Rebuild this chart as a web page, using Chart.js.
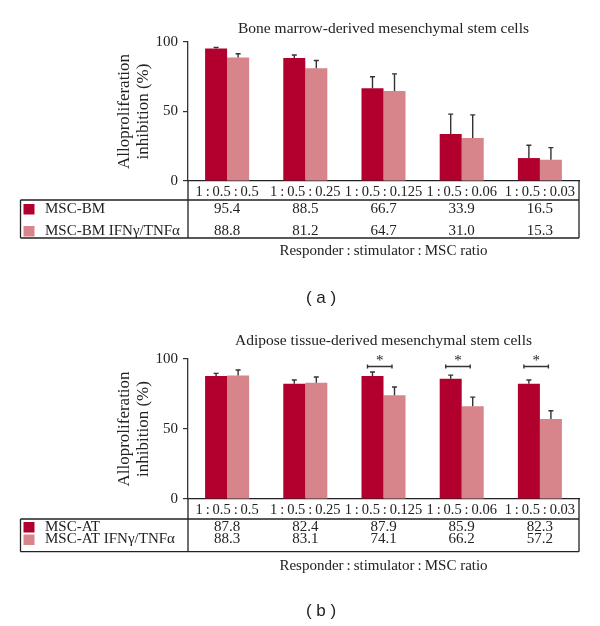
<!DOCTYPE html>
<html>
<head>
<meta charset="utf-8">
<script src="https://cdn.jsdelivr.net/npm/chart.js@4"></script>
<style>
  html, body { margin: 0; padding: 0; background: #fff; }
  #wrap { position: relative; width: 600px; height: 626px; }
  canvas { position: absolute; left: 0; }
  #chartA { top: 0; }
  #chartB { top: 313px; }
</style>
</head>
<body>
<div id="wrap">
  <canvas id="chartA" width="600" height="313"></canvas>
  <canvas id="chartB" width="600" height="313"></canvas>
</div>
<script>
const T = '\u2009';
const ratioLabels = ['1' + T + ':' + T + '0.5' + T + ':' + T + '0.5',
                     '1' + T + ':' + T + '0.5' + T + ':' + T + '0.25',
                     '1' + T + ':' + T + '0.5' + T + ':' + T + '0.125',
                     '1' + T + ':' + T + '0.5' + T + ':' + T + '0.06',
                     '1' + T + ':' + T + '0.5' + T + ':' + T + '0.03'];
const yTicks = [0, 50, 100];

// bone marrow
const bmValues = [95.4, 88.5, 66.7, 33.9, 16.5];
const bmIfnValues = [88.8, 81.2, 64.7, 31.0, 15.3];
const bmErrors = [0.7, 2.1, 8.3, 14.2, 9.2];
const bmIfnErrors = [2.8, 5.5, 12.4, 16.6, 8.7];
const bmSignificant = [false, false, false, false, false];

// adipose tissue
const atValues = [87.8, 82.4, 87.9, 85.9, 82.3];
const atIfnValues = [88.3, 83.1, 74.1, 66.2, 57.2];
const atErrors = [1.9, 2.6, 2.8, 2.6, 2.7];
const atIfnErrors = [3.8, 4.0, 5.9, 6.6, 5.8];
const atSignificant = [false, false, true, true, true];

const darkRed = '#b2002e';
const lightRed = '#d8848b';
const ink = '#222';
const serif = "'Liberation Serif', 'DejaVu Serif', serif";

Chart.defaults.font.family = serif;
Chart.defaults.color = ink;

// error bars, significance, table and texts
const extras = {
    id: 'extras',
    afterDraw(chart, args, o) {
        const ctx = chart.ctx;
        const x = chart.scales.x;
        const y = chart.scales.y;
        const area = chart.chartArea;
        ctx.save();

        // error bars (upper only)
        ctx.strokeStyle = '#333';
        ctx.lineWidth = 1.4;
        chart.data.datasets.forEach((ds, i) => {
            chart.getDatasetMeta(i).data.forEach((bar, j) => {
                const top = y.getPixelForValue(ds.data[j] + ds.errors[j]);
                ctx.beginPath();
                ctx.moveTo(bar.x, bar.y);
                ctx.lineTo(bar.x, top);
                ctx.moveTo(bar.x - 2.5, top);
                ctx.lineTo(bar.x + 2.5, top);
                ctx.stroke();
            });
        });

        // significance brackets
        const m0 = chart.getDatasetMeta(0).data;
        const m1 = chart.getDatasetMeta(1).data;
        o.significant.forEach((sig, j) => {
            if (!sig) return;
            const by = y.getPixelForValue(94.6);
            const x1 = m0[j].x - 5, x2 = m1[j].x - 2.5;
            ctx.beginPath();
            ctx.moveTo(x1, by); ctx.lineTo(x2, by);
            ctx.moveTo(x1, by - 2); ctx.lineTo(x1, by + 2);
            ctx.moveTo(x2, by - 2); ctx.lineTo(x2, by + 2);
            ctx.stroke();
            ctx.fillStyle = ink;
            ctx.font = '15px ' + serif;
            ctx.textAlign = 'center';
            ctx.textBaseline = 'alphabetic';
            ctx.fillText('*', (x1 + x2) / 2, by - 2);
        });

        // table
        const left = 20.5;
        ctx.strokeStyle = ink;
        ctx.lineWidth = 1.3;
        ctx.beginPath();
        ctx.moveTo(left, o.rowTop); ctx.lineTo(area.right, o.rowTop);
        ctx.moveTo(left, o.rowBottom); ctx.lineTo(area.right, o.rowBottom);
        ctx.moveTo(left, o.rowTop); ctx.lineTo(left, o.rowBottom);
        ctx.moveTo(area.left, area.bottom); ctx.lineTo(area.left, o.rowBottom);
        ctx.moveTo(area.right, area.bottom); ctx.lineTo(area.right, o.rowBottom);
        ctx.stroke();

        ctx.font = '15px ' + serif;
        ctx.textBaseline = 'middle';
        chart.data.datasets.forEach((ds, i) => {
            const cy = o.rowY[i];
            ctx.fillStyle = ds.backgroundColor;
            ctx.fillRect(23.5, cy - 5, 11, 10.5);
            ctx.fillStyle = ink;
            ctx.textAlign = 'left';
            ctx.fillText(ds.label, 45, cy);
            ctx.textAlign = 'center';
            ds.data.forEach((v, j) => {
                ctx.fillText(v.toFixed(1), x.getPixelForTick(j), cy);
            });
        });

        // titles
        const cx = (area.left + area.right) / 2;
        ctx.textAlign = 'center';
        ctx.font = '15.5px ' + serif;
        ctx.fillText(o.title, cx, o.titleY);
        ctx.font = '15px ' + serif;
        ctx.fillText('Responder' + T + ':' + T + 'stimulator' + T + ':' + T + 'MSC ratio', cx, o.xTitleY);
        ctx.font = "17px 'Liberation Sans', sans-serif";
        ctx.fillText(o.panel, 321, 298);
        ctx.restore();
    }
};

function panel(canvasId, labels, values, errors, ifnValues, ifnErrors, opts) {
    const ctx = document.getElementById(canvasId);
    return new Chart(ctx, {
        type: 'bar',
        data: {
            labels: ratioLabels,
            datasets: [{
                label: labels[0],
                data: values,
                errors: errors,
                backgroundColor: darkRed,
                borderWidth: 0
            }, {
                label: labels[1],
                data: ifnValues,
                errors: ifnErrors,
                backgroundColor: lightRed,
                borderWidth: 0
            }]
        },
        options: {
            responsive: false,
            animation: false,
            layout: { padding: { top: opts.top, left: 106, right: 21, bottom: 0 } },
            datasets: { bar: { categoryPercentage: 0.563, barPercentage: 1.0 } },
            plugins: {
                legend: { display: false },
                tooltip: { enabled: false },
                extras: opts
            },
            scales: {
                x: {
                    grid: { display: false, drawTicks: false },
                    border: { display: true, color: ink, width: 1.3 },
                    ticks: { font: { size: 14.5 }, color: ink, padding: 2, maxRotation: 0, autoSkip: false },
                    afterFit(scale) { scale.height = 313 - opts.bottom; }
                },
                y: {
                    min: 0,
                    max: 100,
                    afterBuildTicks(scale) { scale.ticks = yTicks.map(v => ({ value: v })); },
                    grid: { drawOnChartArea: false, drawTicks: true, tickLength: 5, color: '#333', lineWidth: 1.2 },
                    border: { display: true, color: '#333', width: 1.3 },
                    ticks: { font: { size: 15 }, color: ink, padding: 5 },
                    title: {
                        display: true,
                        text: ['Alloproliferation', 'inhibition (%)'],
                        font: { size: 17, lineHeight: 1.1 },
                        color: ink,
                        padding: { top: 9.6, bottom: 0 }
                    },
                    afterFit(scale) { scale.width = 82; }
                }
            }
        },
        plugins: [extras]
    });
}

document.addEventListener('DOMContentLoaded', () => {
    panel('chartA', ['MSC-BM', 'MSC-BM IFN\u03b3/TNF\u03b1'], bmValues, bmErrors, bmIfnValues, bmIfnErrors, {
        top: 42, bottom: 181, rowTop: 200, rowBottom: 238, rowY: [209, 231],
        title: 'Bone marrow-derived mesenchymal stem cells', titleY: 29, xTitleY: 251,
        panel: '( a )', significant: bmSignificant
    });
    panel('chartB', ['MSC-AT', 'MSC-AT IFN\u03b3/TNF\u03b1'], atValues, atErrors, atIfnValues, atIfnErrors, {
        top: 46, bottom: 186, rowTop: 206, rowBottom: 238.7, rowY: [214, 226.5],
        title: 'Adipose tissue-derived mesenchymal stem cells', titleY: 28, xTitleY: 253,
        panel: '( b )', significant: atSignificant
    });
});
</script>
</body>
</html>
